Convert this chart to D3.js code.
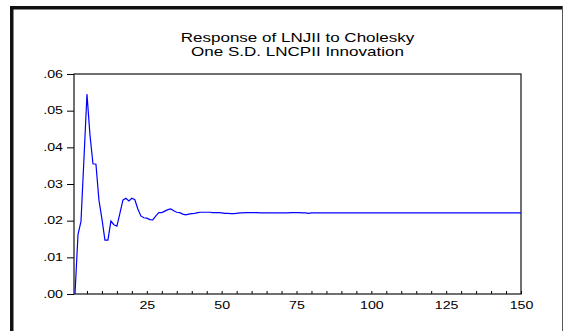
<!DOCTYPE html>
<meta charset="utf-8">
<script src="https://cdn.jsdelivr.net/npm/d3@7/dist/d3.min.js"></script>
<style>
body { margin: 0; background: #fff; }
text { font-family: "Liberation Sans", Arial, sans-serif; fill: #000; }
path.resp { fill: none; stroke: #0000ff; stroke-width: 1.2px; }
</style>
<body>
<script>

var titleLines = ["Response of LNJII to Cholesky", "One S.D. LNCPII Innovation"];

// response by period (1..150)
var response = [
  0.0000, 0.0162, 0.0198, 0.0370, 0.0545, 0.0434, 0.0355, 0.0354, 0.0256, 0.0205,
  0.0147, 0.0147, 0.0199, 0.0189, 0.0185, 0.0220, 0.0256, 0.0261, 0.0254, 0.0261,
  0.0257, 0.0232, 0.0213, 0.0208, 0.0207, 0.0203, 0.0202, 0.0213, 0.0222, 0.0222,
  0.0226, 0.0230, 0.0232, 0.0227, 0.0223, 0.0222, 0.0218, 0.0216, 0.0218, 0.0219,
  0.0220, 0.0222, 0.0223, 0.0223, 0.0223, 0.0223, 0.0222, 0.0222, 0.0222, 0.0221,
  0.0220, 0.0220, 0.0219, 0.0219, 0.0220, 0.0221, 0.0221, 0.0222, 0.0222, 0.0222,
  0.0222, 0.0222, 0.0221, 0.0221, 0.0221, 0.0221, 0.0221, 0.0221, 0.0221, 0.0221,
  0.0221, 0.0221, 0.0222, 0.0222, 0.0222, 0.0222, 0.0221, 0.0221, 0.0220, 0.0221,
  0.0221, 0.0221, 0.0221, 0.0221, 0.0221, 0.0221, 0.0221, 0.0221, 0.0221, 0.0221,
  0.0221, 0.0221, 0.0221, 0.0221, 0.0221, 0.0221, 0.0221, 0.0221, 0.0221, 0.0221,
  0.0221, 0.0221, 0.0221, 0.0221, 0.0221, 0.0221, 0.0221, 0.0221, 0.0221, 0.0221,
  0.0221, 0.0221, 0.0221, 0.0221, 0.0221, 0.0221, 0.0221, 0.0221, 0.0221, 0.0221,
  0.0221, 0.0221, 0.0221, 0.0221, 0.0221, 0.0221, 0.0221, 0.0221, 0.0221, 0.0221,
  0.0221, 0.0221, 0.0221, 0.0221, 0.0221, 0.0221, 0.0221, 0.0221, 0.0221, 0.0221,
  0.0221, 0.0221, 0.0221, 0.0221, 0.0221, 0.0221, 0.0221, 0.0221, 0.0221, 0.0221
];

var yTicks = [0, 0.01, 0.02, 0.03, 0.04, 0.05, 0.06];
var xLabelTicks = [25, 50, 75, 100, 125, 150];
var xMinorTicks = [5, 10, 15, 20, 25, 30, 35, 40, 45, 50, 55, 60, 65, 70, 75, 80, 85, 90, 95, 100,
                   105, 110, 115, 120, 125, 130, 135, 140, 145, 150];

var width = 564, height = 331;
var stretch = 1.42;   // the original picture is stretched sideways
var plot = {left: 74, right: 521, top: 74, bottom: 294};

var svg = d3.select("body").append("svg")
    .attr("width", width)
    .attr("height", height);

// outer frame
svg.append("rect").attr("x", 10).attr("y", 6).attr("width", 553).attr("height", 3.5).attr("fill", "#111");
svg.append("rect").attr("x", 10).attr("y", 6).attr("width", 3.5).attr("height", height - 6).attr("fill", "#111");
svg.append("line").attr("x1", 562.5).attr("x2", 562.5).attr("y1", 6).attr("y2", height)
    .attr("stroke", "#555").attr("stroke-width", 1);

// title
svg.selectAll(".title")
    .data(titleLines)
    .enter().append("text")
    .attr("class", "title")
    .attr("text-anchor", "middle")
    .style("font-size", "12px")
    .attr("transform", function(d, i) {
      return "translate(" + ((plot.left + plot.right) / 2) + "," + (42 + i * 14) + ") scale(" + stretch + ",1)";
    })
    .text(function(d) { return d; });

var x = d3.scaleLinear().domain([1, 150]).range([plot.left + 1, plot.right]);
var y = d3.scaleLinear().domain([0, 0.06]).range([plot.bottom, plot.top]);

// y axis
var yAxis = svg.append("g")
    .attr("transform", "translate(" + plot.left + ",0)")
    .call(d3.axisLeft(y).tickValues(yTicks).tickSize(7).tickPadding(4)
      .tickFormat(function(d) { return d3.format(".2f")(d).replace(/^0/, ""); }));
yAxis.select(".domain").remove();
yAxis.selectAll("text")
    .style("font-size", "10px")
    .attr("x", -11 / stretch)
    .attr("transform", "scale(" + stretch + ",1)");

// x minor ticks (inside, pointing up)
var xTickAxis = svg.append("g")
    .attr("transform", "translate(0," + plot.bottom + ")")
    .call(d3.axisBottom(x).tickValues(xMinorTicks).tickSize(-3).tickFormat(""));
xTickAxis.select(".domain").remove();

// x labels
var xAxis = svg.append("g")
    .attr("transform", "translate(0," + plot.bottom + ")")
    .call(d3.axisBottom(x).tickValues(xLabelTicks).tickSize(0).tickPadding(8));
xAxis.select(".domain").remove();
xAxis.selectAll("text")
    .style("font-size", "10px")
    .attr("transform", "scale(" + stretch + ",1)")
    .attr("x", 0);

// plot frame
svg.append("rect")
    .attr("x", plot.left).attr("y", plot.top)
    .attr("width", plot.right - plot.left).attr("height", plot.bottom - plot.top)
    .attr("fill", "none").attr("stroke", "#111").attr("stroke-width", 1.2);

var line = d3.line()
    .x(function(d, i) { return x(i + 1); })
    .y(function(d) { return y(d); });

svg.append("path")
    .datum(response)
    .attr("class", "resp")
    .attr("d", line);

</script>
</body>
